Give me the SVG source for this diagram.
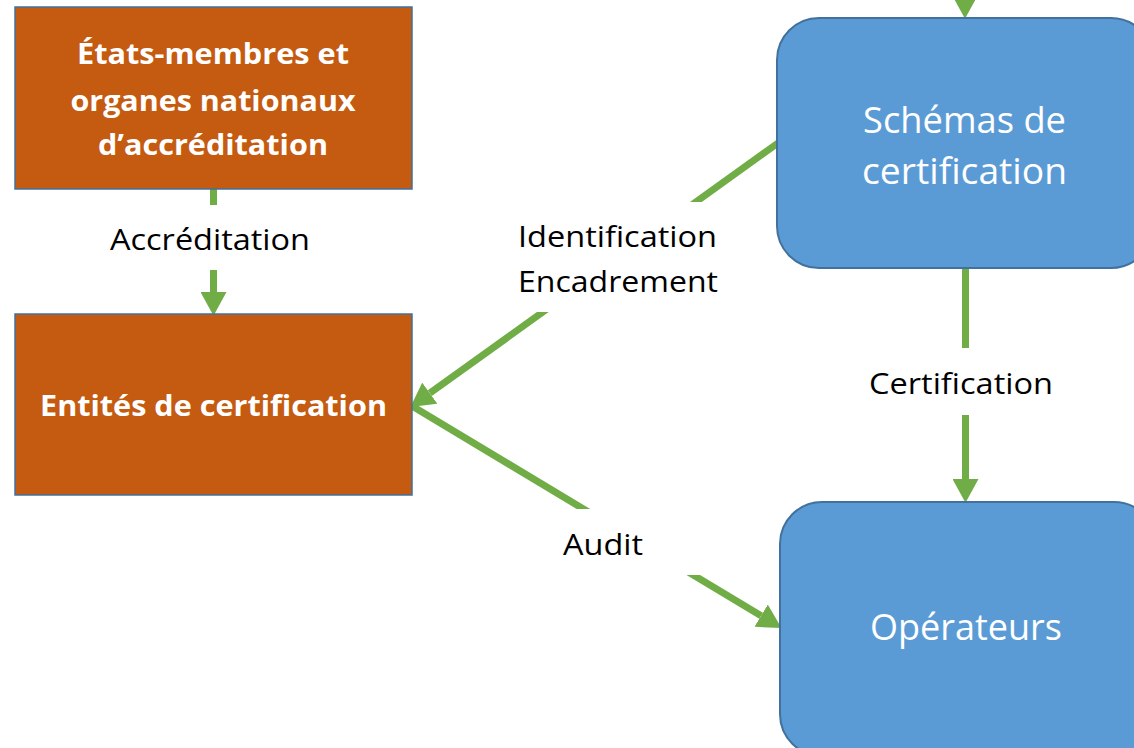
<svg xmlns="http://www.w3.org/2000/svg" width="1134" height="748" viewBox="0 0 1134 748">
  <style>
    .orange { fill: #c55a11; stroke: #41719c; stroke-width: 1.5; }
    .blue { fill: #5b9bd5; stroke: #41719c; stroke-width: 2; }
    .conn { stroke: #70ad47; stroke-width: 7; fill: none; stroke-linecap: butt; }
    .tw { font-family: "Open Sans", "Liberation Sans", sans-serif; fill: #ffffff; text-anchor: middle; }
    .bold { font-weight: bold; font-size: 29px; }
    .big { font-size: 37px; }
    .lbl { font-family: "Open Sans", "Liberation Sans", sans-serif; fill: #000000; font-size: 29px; text-anchor: middle; }
  </style>
  <defs>
    <marker id="arrow" markerUnits="userSpaceOnUse" markerWidth="24" markerHeight="26" refX="0" refY="12" orient="auto" viewBox="0 0 22 24">
      <path d="M0,0 L22,12 L0,24 z" fill="#70ad47"/>
    </marker>
    <mask id="gaps" maskUnits="userSpaceOnUse" x="0" y="-60" width="1134" height="808">
      <rect x="0" y="-60" width="1134" height="808" fill="#ffffff"/>
      <rect x="90" y="205" width="250" height="65" fill="#000000"/>
      <rect x="500" y="202" width="240" height="110" fill="#000000"/>
      <rect x="540" y="509" width="170" height="66" fill="#000000"/>
      <rect x="850" y="348" width="220" height="67" fill="#000000"/>
    </mask>
  </defs>
  <rect width="1134" height="748" fill="#ffffff"/>

  <g id="connectors" mask="url(#gaps)">
    <line class="conn" x1="965" y1="-60" x2="965" y2="-5" marker-end="url(#arrow)"/>
    <line class="conn" x1="213.5" y1="189" x2="213.5" y2="292" marker-end="url(#arrow)"/>
    <line class="conn" x1="778" y1="143" x2="429.8" y2="393.2" marker-end="url(#arrow)"/>
    <line class="conn" x1="412" y1="406" x2="761.1" y2="615.7" marker-end="url(#arrow)"/>
    <line class="conn" x1="965.5" y1="268" x2="965.5" y2="479" marker-end="url(#arrow)"/>
  </g>

  <g id="etats-membres">
    <rect class="orange" x="15" y="7" width="397" height="182"/>
    <text class="tw bold" x="213" y="64" textLength="272" lengthAdjust="spacingAndGlyphs">États-membres et</text>
    <text class="tw bold" x="213" y="111" textLength="285" lengthAdjust="spacingAndGlyphs">organes nationaux</text>
    <text class="tw bold" x="213" y="155" textLength="230" lengthAdjust="spacingAndGlyphs">d’accréditation</text>
  </g>

  <g id="entites">
    <rect class="orange" x="15" y="314" width="397" height="181"/>
    <text class="tw bold" x="213.5" y="416" textLength="347" lengthAdjust="spacingAndGlyphs">Entités de certification</text>
  </g>

  <g id="schemas">
    <rect class="blue" x="777" y="18" width="376" height="250" rx="42" ry="42"/>
    <text class="tw big" x="964.5" y="133" textLength="203" lengthAdjust="spacingAndGlyphs">Schémas de</text>
    <text class="tw big" x="964.5" y="184" textLength="205" lengthAdjust="spacingAndGlyphs">certification</text>
  </g>

  <g id="operateurs">
    <rect class="blue" x="780" y="502" width="376" height="254" rx="42" ry="42"/>
    <text class="tw big" x="966" y="640" textLength="192" lengthAdjust="spacingAndGlyphs">Opérateurs</text>
  </g>

  <g id="labels">
    <text class="lbl" x="210" y="250" textLength="200" lengthAdjust="spacingAndGlyphs">Accréditation</text>
    <text class="lbl" x="617.5" y="247" textLength="199" lengthAdjust="spacingAndGlyphs">Identification</text>
    <text class="lbl" x="618" y="292" textLength="200" lengthAdjust="spacingAndGlyphs">Encadrement</text>
    <text class="lbl" x="603" y="555" textLength="80" lengthAdjust="spacingAndGlyphs">Audit</text>
    <text class="lbl" x="961" y="394" textLength="184" lengthAdjust="spacingAndGlyphs">Certification</text>
  </g>
</svg>
